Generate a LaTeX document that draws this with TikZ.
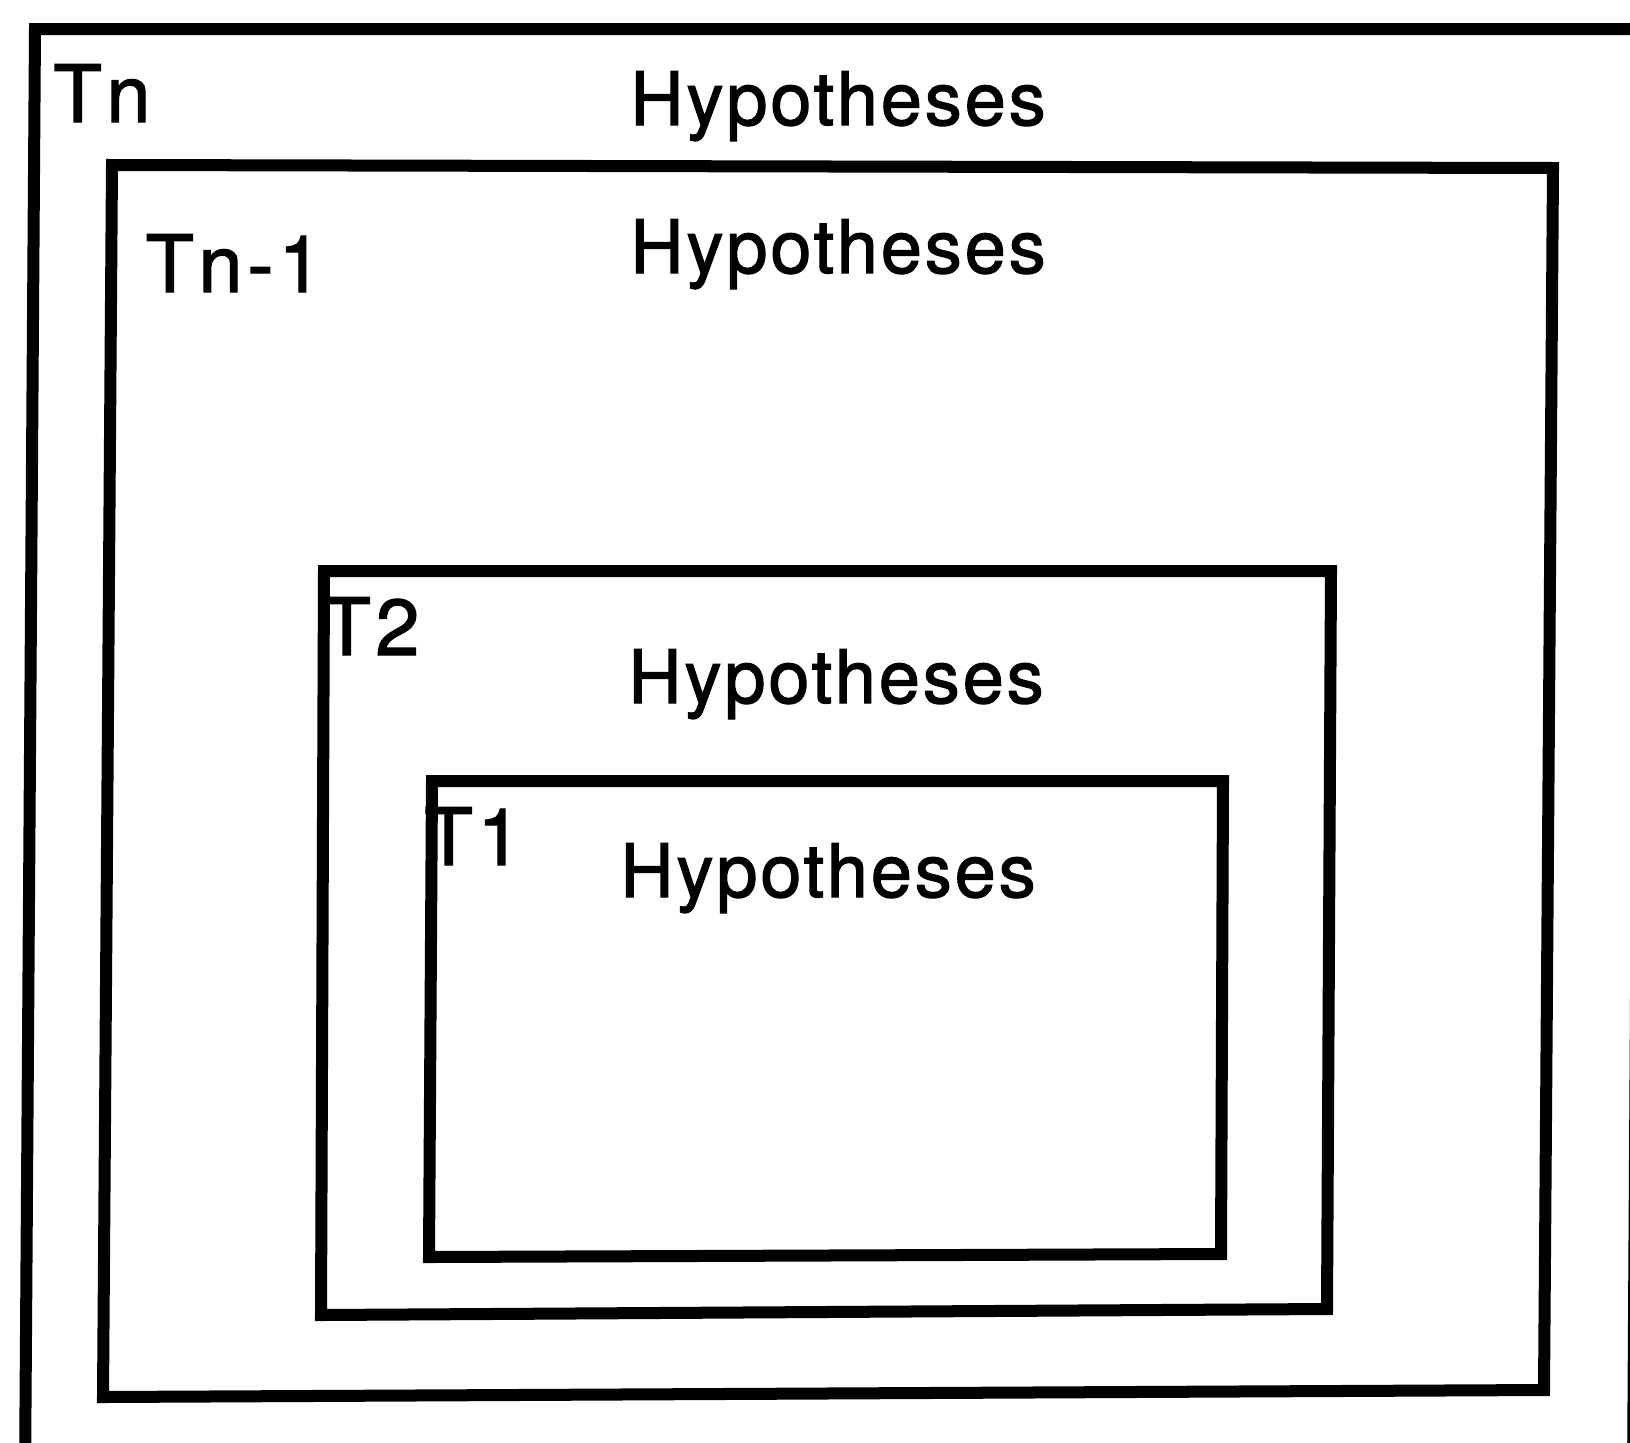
\documentclass[tikz,border=0pt]{standalone}
\usepackage{fontspec}
\setmainfont{TeX Gyre Heros}
\newfontfamily\hypfont[LetterSpace=4,FakeBold=1.6]{TeX Gyre Heros}
\newfontfamily\labfont[LetterSpace=6,FakeBold=1.6]{TeX Gyre Heros}
\begin{document}
\begin{tikzpicture}[x=0.01cm,y=-0.01cm,
  boxline/.style={line width=0.12cm, line join=miter},
  hyp/.style={inner sep=0pt, anchor=base, font=\hypfont\fontsize{21}{25}\selectfont},
  lab/.style={inner sep=0pt, anchor=base, font=\labfont\fontsize{22.5}{27}\selectfont}]
\useasboundingbox (0,0) rectangle (1630,1442);
\clip (0,0) rectangle (1630,1442);
% outer box Tn (partly outside the picture)
\coordinate (n1) at (35,29);
\coordinate (n2) at (1642,29);
\coordinate (n3) at (1633,1480);
\coordinate (n4) at (25,1480);
\draw[boxline] (n1) -- (n2) -- (n3) -- (n4) -- cycle;
% box Tn-1
\coordinate (m1) at (112,165);
\coordinate (m2) at (1553,168);
\coordinate (m3) at (1544,1390);
\coordinate (m4) at (103,1397);
\draw[boxline] (m1) -- (m2) -- (m3) -- (m4) -- cycle;
% box T2
\coordinate (b1) at (324,571);
\coordinate (b2) at (1331,571);
\coordinate (b3) at (1327,1309);
\coordinate (b4) at (321,1315);
\draw[boxline] (b1) -- (b2) -- (b3) -- (b4) -- cycle;
% box T1
\coordinate (a1) at (432,781);
\coordinate (a2) at (1223,781);
\coordinate (a3) at (1221,1254);
\coordinate (a4) at (429,1257);
\draw[boxline] (a1) -- (a2) -- (a3) -- (a4) -- cycle;
% texts
\node[hyp] (hn) at (838,125) {Hypotheses};
\node[hyp] (hm) at (838,273) {Hypotheses};
\node[hyp] (h2) at (836,703) {Hypotheses};
\node[hyp] (h1) at (828,897) {Hypotheses};
\node[lab] (ln) at (102,122) {Tn};
\node[lab] (lm) at (234,292) {Tn-1};
\node[lab] (l2) at (371,655) {T2};
\node[lab] (l1) at (473,865) {T1};
\end{tikzpicture}
\end{document}
